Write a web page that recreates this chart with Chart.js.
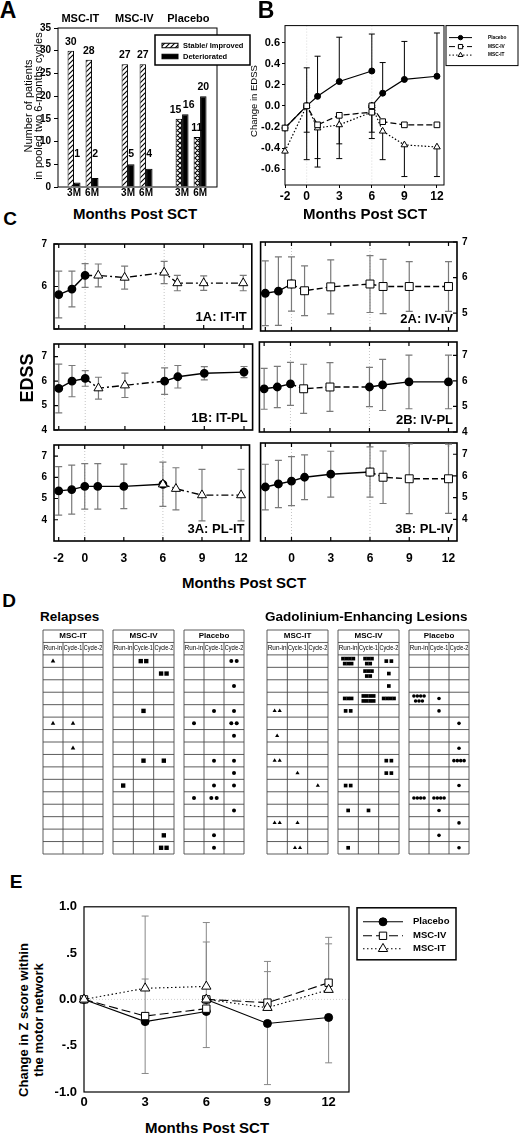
<!DOCTYPE html>
<html>
<head>
<meta charset="utf-8">
<title>EDSS, relapses and lesions after MSC transplantation</title>
<script src="https://cdn.jsdelivr.net/npm/chart.js@4.4.1/dist/chart.umd.min.js"></script>
<style>
  html, body { margin: 0; padding: 0; background: #fff; }
  #page { position: relative; width: 520px; height: 1133px; overflow: hidden; font-family: 'Liberation Sans', Arial, sans-serif; color: #000; }
  .box { position: absolute; }
  .box canvas { display: block; }
  .lbl { position: absolute; white-space: nowrap; line-height: 1; }
</style>
</head>
<body>
<div id="page"></div>
<script>
// Panel A - patients stable / deteriorated, pooled two 6-month cycles
const aGroups = ['MSC-IT', 'MSC-IV', 'Placebo'];
const aTimes = ['3M', '6M'];
const aStable = [30, 28, 27, 27, 15, 11];
const aDeteriorated = [1, 2, 5, 4, 16, 20];
const aYTicks = [0, 5, 10, 15, 20, 25, 30, 35];

// Panel B - change in EDSS, re-baselined at month 6
const bSeries = ['Placebo', 'MSC-IV', 'MSC-IT'];
const bCycle1Months = [-2, 0, 1, 3, 6];
const bCycle2Months = [6, 7, 9, 12];
const bPlacebo1 = [-0.21, 0, 0.09, 0.23, 0.33];
const bPlacebo2 = [0, 0.12, 0.25, 0.28];
const bIV1 = [-0.21, 0, -0.18, -0.09, -0.06];
const bIV2 = [0, -0.15, -0.18, -0.18];
const bIT1 = [-0.43, 0, -0.21, -0.18, -0.06];
const bIT2 = [0, -0.24, -0.37, -0.39];
// one-sided SD whiskers (placebo up, MSC down)
const bPlaceboSd1 = [0, 0.36, 0.38, 0.42, 0.35];
const bPlaceboSd2 = [0, 0.29, 0.36, 0.41];
const bIVSd1 = [0, 0.25, 0.32, 0.27, 0.19];
const bIVSd2 = [0, 0, 0, 0];
const bITSd1 = [0, 0.51, 0.37, 0.32, 0.25];
const bITSd2 = [0, 0.27, 0.30, 0.28];
const bXTicks = [-2, 0, 3, 6, 9, 12];
const bYTicks = [-0.6, -0.4, -0.2, 0, 0.2, 0.4, 0.6];

// Panel C - EDSS per crossover arm (base = run-in / placebo, drug = MSC)
const cMonths = [-2, -1, 0, 1, 3, 6, 7, 9, 12];
const cXTicks = [-2, 0, 3, 6, 9, 12];
const c1ABase = [5.81, 5.94, 6.26, null, null, null, null, null, null];
const c1ADrug = [null, null, 6.26, 6.26, 6.21, 6.33, 6.08, 6.08, 6.08];
const c1ASd = [0.55, 0.42, 0.28, 0.27, 0.27, 0.26, 0.18, 0.17, 0.18];
const c2ABase = [5.56, 5.62, 5.82, null, null, null, null, null, null];
const c2ADrug = [null, null, 5.82, 5.63, 5.74, 5.82, 5.75, 5.75, 5.75];
const c2ASd = [0.91, 0.96, 0.76, 0.70, 0.76, 0.80, 0.76, 0.70, 0.70];
const c1BBase = [5.70, 6.00, 6.11, null, null, 6.00, 6.18, 6.32, 6.37];
const c1BDrug = [null, null, 6.11, 5.71, 5.83, 6.00, null, null, null];
const c1BSd = [1.00, 0.64, 0.32, 0.45, 0.50, 0.54, 0.46, 0.27, 0.23];
const c2BBase = [5.69, 5.76, 5.88, null, null, 5.76, 5.84, 5.96, 5.96];
const c2BDrug = [null, null, 5.88, 5.69, 5.76, 5.76, null, null, null];
const c2BSd = [0.80, 0.81, 0.84, 0.96, 0.95, 0.77, 1.00, 1.05, 1.05];
const c3ABase = [5.36, 5.42, 5.57, 5.57, 5.57, 5.67, null, null, null];
const c3ADrug = [null, null, null, null, null, 5.67, 5.46, 5.16, 5.16];
const c3ASd = [1.14, 1.15, 1.07, 1.07, 1.05, 1.04, 0.99, 1.21, 1.21];
const c3BBase = [5.49, 5.63, 5.76, 5.94, 6.08, 6.18, null, null, null];
const c3BDrug = [null, null, null, null, null, 6.18, 5.94, 5.87, 5.87];
const c3BSd = [1.05, 1.09, 1.13, 1.03, 1.06, 1.16, 1.21, 1.61, 1.60];
const cYTicksTop = [5, 6, 7];
const cYTicks = [4, 5, 6, 7];

// Panel D - events per patient row (16 rows) and period
const dGroups = ['MSC-IT', 'MSC-IV', 'Placebo'];
const dColumns = ['Run-in', 'Cycle-1', 'Cycle-2'];
const relITRunIn  = [1,0,0,0,0,1,0,0,0,0,0,0,0,0,0,0];
const relITCycle1 = [0,0,0,0,0,1,0,1,0,0,0,0,0,0,0,0];
const relITCycle2 = [0,0,0,0,0,0,0,0,0,0,0,0,0,0,0,0];
const relIVRunIn  = [0,0,0,0,0,0,0,0,0,0,1,0,0,0,0,0];
const relIVCycle1 = [2,0,0,0,1,0,0,0,1,0,0,0,0,0,0,0];
const relIVCycle2 = [0,2,0,0,0,0,0,0,1,0,0,0,0,0,1,2];
const relPLRunIn  = [0,0,0,0,0,1,0,0,0,0,0,1,0,0,0,0];
const relPLCycle1 = [0,0,0,0,1,0,0,0,1,0,1,2,0,0,1,1];
const relPLCycle2 = [2,0,1,0,1,2,1,0,1,1,1,0,1,0,0,0];
const gdITRunIn  = [0,0,0,0,2,0,1,0,2,0,0,0,0,2,0,0];
const gdITCycle1 = [0,0,0,0,0,0,0,0,0,1,0,0,0,1,0,2];
const gdITCycle2 = [0,0,0,0,0,0,0,0,0,0,1,0,0,0,0,0];
const gdIVRunIn  = [7,0,0,3,2,0,0,0,0,0,2,0,1,0,0,1];
const gdIVCycle1 = [5,5,0,8,0,0,0,0,0,0,0,0,1,0,0,0];
const gdIVCycle2 = [2,1,1,4,0,0,0,0,2,2,0,0,0,0,0,0];
const gdPLRunIn  = [0,0,0,7,0,0,0,0,0,0,0,4,0,0,0,0];
const gdPLCycle1 = [0,0,0,1,1,0,0,0,0,0,0,4,1,0,1,0];
const gdPLCycle2 = [0,0,0,0,0,1,0,1,4,0,1,0,0,1,0,1];

// Panel E - change in Z score within the motor network
const eCycle1Months = [0, 3, 6];
const eCycle2Months = [6, 9, 12];
const ePlacebo1 = [0, -0.24, -0.13];
const ePlacebo2 = [0, -0.26, -0.195];
const eIV1 = [0, -0.18, -0.10];
const eIV2 = [0, -0.035, 0.18];
const eIT1 = [0, 0.12, 0.14];
const eIT2 = [0, -0.09, 0.105];
const ePlaceboSd1 = [0, 0.56, 0.39];
const ePlaceboSd2 = [0, 0.66, 0.49];
const eIVSd1 = [0, 0.40, 0.72];
const eIVSd2 = [0, 0.445, 0.49];
const eITSd1 = [0, 0.78, 0.69];
const eITSd2 = [0, 0.39, 0.495];
const eXTicks = [0, 3, 6, 9, 12];
const eYTicks = [-1, -0.5, 0, 0.5, 1];

const FONT = "'Liberation Sans', Arial, Helvetica, sans-serif";
Chart.defaults.font.family = FONT;
Chart.defaults.color = '#000';
Chart.defaults.animation = false;
Chart.defaults.responsive = true;
Chart.defaults.maintainAspectRatio = false;
Chart.defaults.events = [];
Chart.defaults.plugins.legend.display = false;
Chart.defaults.plugins.tooltip.enabled = false;

const page = document.getElementById('page');

function pts(xs, ys) { return xs.map((x, i) => ({ x, y: ys[i] })); }

function drawMark(c, style, x, y, r, fill) {
  c.beginPath();
  if (style === 'circle') c.arc(x, y, r, 0, Math.PI * 2);
  else if (style === 'rect') { const s = r * Math.SQRT1_2; c.rect(x - s, y - s, 2 * s, 2 * s); }
  else {
    for (let k = 0; k < 3; k++) {
      const a = k * 2 * Math.PI / 3;
      const px = x + Math.sin(a) * r, py = y - Math.cos(a) * r;
      if (k) c.lineTo(px, py); else c.moveTo(px, py);
    }
    c.closePath();
  }
  c.fillStyle = fill; c.fill();
  c.setLineDash([]); c.lineWidth = 1; c.strokeStyle = '#000'; c.stroke();
}

// ---------- plugins ----------
const refLinesPlugin = {
  id: 'refLines',
  beforeDatasetsDraw(chart, args, o) {
    if (!o.color) return;
    const c = chart.ctx, a = chart.chartArea;
    c.save(); c.strokeStyle = o.color; c.lineWidth = 1; c.setLineDash([1, 2]); c.beginPath();
    (o.x || []).forEach(v => { const x = chart.scales.x.getPixelForValue(v); c.moveTo(x, a.top); c.lineTo(x, a.bottom); });
    (o.y || []).forEach(v => { const y = chart.scales.y.getPixelForValue(v); c.moveTo(a.left, y); c.lineTo(a.right, y); });
    c.stroke(); c.restore();
  }
};

const framePlugin = {
  id: 'frame',
  beforeDatasetsDraw(chart, args, o) {
    if (!o.width) return;
    const c = chart.ctx, a = chart.chartArea;
    c.save(); c.strokeStyle = '#000'; c.lineWidth = o.width;
    c.strokeRect(a.left, a.top, a.right - a.left, a.bottom - a.top);
    c.restore();
  }
};

const innerTicksPlugin = {
  id: 'innerTicks',
  beforeDatasetsDraw(chart, args, o) {
    if (!o.len) return;
    const c = chart.ctx, a = chart.chartArea, xs = chart.scales.x, ys = chart.scales.y;
    c.save(); c.strokeStyle = '#000'; c.lineWidth = 1.2; c.beginPath();
    xs.ticks.forEach(t => {
      const x = xs.getPixelForValue(t.value);
      c.moveTo(x, a.top); c.lineTo(x, a.top + o.len);
      c.moveTo(x, a.bottom); c.lineTo(x, a.bottom - o.len);
    });
    const x0 = o.ySide === 'left' ? a.left : a.right, d = o.ySide === 'left' ? o.len : -o.len;
    ys.ticks.forEach(t => { const y = ys.getPixelForValue(t.value); c.moveTo(x0, y); c.lineTo(x0 + d, y); });
    c.stroke(); c.restore();
  }
};

const errorBarsPlugin = {
  id: 'errorBars',
  beforeDatasetsDraw(chart) {
    const c = chart.ctx, ys = chart.scales.y;
    chart.data.datasets.forEach((ds, di) => {
      if (!ds.errors) return;
      const meta = chart.getDatasetMeta(di);
      c.save(); c.strokeStyle = ds.errorColor; c.lineWidth = ds.errorWidth; c.setLineDash([]); c.beginPath();
      ds.data.forEach((p, i) => {
        const e = ds.errors[i];
        if (p.y === null || !e) return;
        const x = meta.data[i].x, y0 = ys.getPixelForValue(p.y);
        const ends = ds.errorDir ? [p.y + ds.errorDir * e] : [p.y + e, p.y - e];
        ends.forEach(v => {
          const y1 = ys.getPixelForValue(v);
          c.moveTo(x, y0); c.lineTo(x, y1);
          c.moveTo(x - ds.errorCap, y1); c.lineTo(x + ds.errorCap, y1);
        });
      });
      c.stroke(); c.restore();
    });
  }
};

const cornerLabelPlugin = {
  id: 'cornerLabel',
  afterDatasetsDraw(chart, args, o) {
    if (!o.text) return;
    const c = chart.ctx, a = chart.chartArea;
    c.save(); c.font = o.font; c.fillStyle = '#000'; c.textAlign = 'right'; c.textBaseline = 'middle';
    c.fillText(o.text, a.right - o.dx, a.bottom - o.dy);
    c.restore();
  }
};

// value above each bar; the two labels of a pair are pushed apart if they collide
const valueLabelsPlugin = {
  id: 'valueLabels',
  afterDatasetsDraw(chart, args, o) {
    if (!o.font) return;
    const c = chart.ctx;
    c.save(); c.font = o.font; c.fillStyle = '#000'; c.textAlign = 'center'; c.textBaseline = 'middle';
    const metas = chart.data.datasets.map((ds, di) => chart.getDatasetMeta(di));
    const labels = chart.data.datasets.map((ds, di) => metas[di].data.map((el, i) => {
      const t = String(ds.data[i].y);
      return { t, x: el.x, y: Math.min(el.y - o.gap, chart.chartArea.bottom - o.floor), w: c.measureText(t).width };
    }));
    labels[0].forEach((a, i) => {
      const b = labels[1][i];
      if (Math.abs(a.y - b.y) < o.size) {
        const need = (a.w + b.w) / 2 + 1.5 - (b.x - a.x);
        if (need > 0) { a.x -= need / 2; b.x += need / 2; }
      }
    });
    labels.flat().forEach(l => c.fillText(l.t, l.x, l.y));
    c.restore();
  }
};

const groupTitlesPlugin = {
  id: 'groupTitles',
  afterDraw(chart, args, o) {
    if (!o.titles) return;
    const c = chart.ctx, xs = chart.scales.x;
    c.save(); c.font = o.font; c.fillStyle = '#000'; c.textAlign = 'center'; c.textBaseline = 'middle';
    o.titles.forEach((t, i) => c.fillText(t, xs.getPixelForValue(o.centers[i]), chart.chartArea.top - o.lift));
    c.restore();
  }
};

const boxLegendPlugin = {
  id: 'boxLegend',
  afterDraw(chart, args, o) {
    if (!o.items) return;
    const c = chart.ctx, a = chart.chartArea;
    const x0 = a.right + o.dx, y0 = a.top + o.dy;
    c.save();
    c.fillStyle = '#fff'; c.fillRect(x0, y0, o.w, o.h);
    c.strokeStyle = '#000'; c.lineWidth = o.border; c.strokeRect(x0, y0, o.w, o.h);
    o.items.forEach((it, i) => {
      const y = y0 + o.rows[i];
      if (it.swatch) {
        c.fillStyle = it.swatch;
        c.fillRect(x0 + o.lineFrom, y - o.swatchH / 2, o.lineTo - o.lineFrom, o.swatchH);
        c.lineWidth = 1; c.strokeStyle = '#000';
        c.strokeRect(x0 + o.lineFrom, y - o.swatchH / 2, o.lineTo - o.lineFrom, o.swatchH);
      } else {
        c.strokeStyle = '#000'; c.lineWidth = o.lineWidth; c.setLineDash(it.dash);
        c.beginPath(); c.moveTo(x0 + o.lineFrom, y); c.lineTo(x0 + o.lineTo, y); c.stroke();
        drawMark(c, it.point, x0 + o.markAt, y, it.r, it.fill);
      }
      c.font = o.font; c.fillStyle = '#000'; c.textAlign = 'left'; c.textBaseline = 'middle';
      c.fillText(it.label, x0 + o.textAt, y);
    });
    c.restore();
  }
};

const tableGridPlugin = {
  id: 'tableGrid',
  beforeDatasetsDraw(chart, args, o) {
    if (!o.title) return;
    const c = chart.ctx, xs = chart.scales.x, ys = chart.scales.y;
    const X = v => xs.getPixelForValue(v), Y = v => ys.getPixelForValue(v);
    const rows = ys.max, cols = xs.max;
    c.save(); c.strokeStyle = o.color; c.lineWidth = o.lineWidth; c.beginPath();
    for (let r = 0; r <= rows; r++) { c.moveTo(X(0), Y(r)); c.lineTo(X(cols), Y(r)); }
    c.moveTo(X(0), Y(0)); c.lineTo(X(0), Y(rows));
    c.moveTo(X(cols), Y(0)); c.lineTo(X(cols), Y(rows));
    for (let k = 1; k < cols; k++) { c.moveTo(X(k), Y(1)); c.lineTo(X(k), Y(rows)); }
    c.stroke();
    c.fillStyle = '#000'; c.textAlign = 'center'; c.textBaseline = 'middle';
    c.font = o.titleFont; c.fillText(o.title, X(cols / 2), Y(0.5));
    c.font = o.colFont;
    o.columns.forEach((name, k) => {
      const maxW = X(k + 1) - X(k) - 1.5, w = c.measureText(name).width;
      c.save(); c.translate(X(k + 0.5), Y(1.5));
      if (w > maxW) c.scale(maxW / w, 1);
      c.fillText(name, 0, 0); c.restore();
    });
    c.restore();
  }
};

Chart.register(refLinesPlugin, framePlugin, innerTicksPlugin, errorBarsPlugin, cornerLabelPlugin,
  valueLabelsPlugin, groupTitlesPlugin, boxLegendPlugin, tableGridPlugin);

// plot = target chart area [left, top, right, bottom]; pad = space around it besides the axes
function makeChart(plot, pad, yw, xh, ySide, config) {
  const m = {
    l: pad.l + (ySide === 'left' ? yw : 0), r: pad.r + (ySide === 'right' ? yw : 0),
    t: pad.t, b: pad.b + xh
  };
  const div = document.createElement('div');
  div.className = 'box';
  div.style.left = (plot[0] - m.l) + 'px';
  div.style.top = (plot[1] - m.t) + 'px';
  div.style.width = (plot[2] - plot[0] + m.l + m.r) + 'px';
  div.style.height = (plot[3] - plot[1] + m.t + m.b) + 'px';
  const canvas = document.createElement('canvas');
  div.appendChild(canvas);
  page.appendChild(div);
  config.options.layout = { padding: { left: pad.l, right: pad.r, top: pad.t, bottom: pad.b } };
  config.options.scales.y.afterFit = s => { s.width = yw; };
  if (xh) config.options.scales.x.afterFit = s => { s.height = xh; };
  return new Chart(canvas, config);
}

function fixedTicks(list) { return s => { s.ticks = list.map(v => ({ value: v })); }; }

function text(str, cx, cy, size, weight, rot, align) {
  const d = document.createElement('div');
  d.className = 'lbl';
  d.textContent = str;
  d.style.left = cx + 'px';
  d.style.top = cy + 'px';
  d.style.fontSize = size + 'px';
  d.style.fontWeight = weight;
  d.style.transform = (align === 'left' ? 'translate(0,-50%)' : 'translate(-50%,-50%)') + (rot ? ' rotate(-90deg)' : '');
  page.appendChild(d);
}

function hatch(cross) {
  const cv = document.createElement('canvas');
  cv.width = cv.height = 5;
  const g = cv.getContext('2d');
  g.fillStyle = '#fff'; g.fillRect(0, 0, 5, 5);
  g.strokeStyle = '#000'; g.lineWidth = 1.1; g.beginPath();
  g.moveTo(0, 5); g.lineTo(5, 0); g.moveTo(-1, 1); g.lineTo(1, -1); g.moveTo(4, 6); g.lineTo(6, 4);
  if (cross) { g.moveTo(0, 0); g.lineTo(5, 5); g.moveTo(4, -1); g.lineTo(6, 1); g.moveTo(-1, 4); g.lineTo(1, 6); }
  g.stroke();
  return g.createPattern(cv, 'repeat');
}

const bold = size => ({ size, weight: 'bold' });
const noGrid = { display: false, drawTicks: false };

// ---------- Panel A ----------
const aPos = aGroups.flatMap((g, gi) => aTimes.map((t, ti) => gi * 3 + ti + 1));
const aTickText = aGroups.flatMap(() => aTimes);
const diagFill = hatch(false), crossFill = hatch(true);
makeChart([58, 28, 217, 187], { l: 2, t: 20, r: 36, b: 1 }, 26, 16, 'left', {
  type: 'bar',
  data: {
    datasets: [
      { label: 'Stable/ Improved', data: pts(aPos, aStable),
        backgroundColor: aPos.map((p, i) => aGroups[Math.floor(i / aTimes.length)] === 'Placebo' ? crossFill : diagFill),
        borderColor: '#000', borderWidth: 1, categoryPercentage: 0.72, barPercentage: 1 },
      { label: 'Deteriorated', data: pts(aPos, aDeteriorated), backgroundColor: '#000',
        borderColor: '#000', borderWidth: 1, categoryPercentage: 0.72, barPercentage: 1 }
    ]
  },
  options: {
    scales: {
      x: { type: 'linear', min: 0.11, max: 8.94, offset: false, afterBuildTicks: fixedTicks(aPos),
        ticks: { callback: v => aTickText[aPos.indexOf(v)], font: bold(10), padding: 0, maxRotation: 0, autoSkip: false },
        grid: noGrid, border: { display: false } },
      y: { type: 'linear', min: 0, max: 35, afterBuildTicks: fixedTicks(aYTicks),
        ticks: { font: bold(10), padding: 3 },
        grid: { drawOnChartArea: false, drawTicks: true, tickLength: 4, color: '#000' }, border: { display: false } }
    },
    plugins: {
      frame: { width: 1 },
      valueLabels: { font: 'bold 10.5px ' + FONT, size: 10.5, gap: 9, floor: 33 },
      groupTitles: { titles: aGroups, centers: aGroups.map((g, gi) => gi * 3 + 1.35), lift: 9, font: 'bold 11px ' + FONT },
      boxLegend: { dx: -62, dy: 7, w: 95, h: 30, border: 1.5, rows: [10.5, 21.5], lineFrom: 7, lineTo: 23, swatchH: 4.5,
        textAt: 28, lineWidth: 1, font: 'bold 7.5px ' + FONT,
        items: [{ label: 'Stable/ Improved', swatch: diagFill }, { label: 'Deteriorated', swatch: '#000' }] }
    }
  }
});

// ---------- Panels B and E: two-cycle series ----------
const seriesMark = { 'Placebo': ['circle', '#000'], 'MSC-IV': ['rect', '#fff'], 'MSC-IT': ['triangle', '#fff'] };
const bLook = { lw: 1.2, err: '#000', errW: 1, cap: 3, r: { circle: 3, rect: 4, triangle: 3.8 },
  dash: { 'Placebo': [], 'MSC-IV': [6, 3], 'MSC-IT': [1.5, 2] } };
const eLook = { lw: 1.1, err: '#888', errW: 1, cap: 3.5, r: { circle: 4, rect: 5.2, triangle: 5.4 },
  dash: { 'Placebo': [], 'MSC-IV': [9, 4], 'MSC-IT': [1.5, 2.5] } };

function cycleSeries(name, look, m1, v1, e1, m2, v2, e2, dir) {
  const [point, fill] = seriesMark[name];
  return {
    label: name,
    data: pts(m1, v1).concat([{ x: m2[0], y: null }], pts(m2, v2)),
    errors: e1.concat([0], e2), errorDir: dir, errorColor: look.err, errorWidth: look.errW, errorCap: look.cap,
    borderColor: '#000', borderWidth: look.lw, borderDash: look.dash[name],
    pointStyle: point, pointRadius: look.r[point], pointBackgroundColor: fill, pointBorderColor: '#000',
    pointBorderWidth: 1, clip: false, spanGaps: false
  };
}
function legendItems(look, r) {
  return bSeries.map(name => ({ label: name, dash: look.dash[name], point: seriesMark[name][0], fill: seriesMark[name][1], r: r[seriesMark[name][0]] }));
}

makeChart([285, 25, 444, 185], { l: 2, t: 8, r: 76, b: 1 }, 25, 17, 'left', {
  type: 'line',
  data: {
    datasets: [
      cycleSeries('MSC-IV', bLook, bCycle1Months, bIV1, bIVSd1, bCycle2Months, bIV2, bIVSd2, -1),
      cycleSeries('MSC-IT', bLook, bCycle1Months, bIT1, bITSd1, bCycle2Months, bIT2, bITSd2, -1),
      cycleSeries('Placebo', bLook, bCycle1Months, bPlacebo1, bPlaceboSd1, bCycle2Months, bPlacebo2, bPlaceboSd2, 1)
    ]
  },
  options: {
    scales: {
      x: { type: 'linear', min: -2, max: 12.65, afterBuildTicks: fixedTicks(bXTicks),
        ticks: { font: bold(12), padding: 1, maxRotation: 0, autoSkip: false },
        grid: { drawOnChartArea: false, drawTicks: true, tickLength: 3, color: '#000' }, border: { display: false } },
      y: { type: 'linear', min: -0.75, max: 0.76, afterBuildTicks: fixedTicks(bYTicks),
        ticks: { font: bold(11), padding: 2, callback: v => v.toFixed(1) },
        grid: { drawOnChartArea: false, drawTicks: true, tickLength: 3, color: '#000' }, border: { display: false } }
    },
    plugins: {
      frame: { width: 1 },
      refLines: { x: [0, 6], color: '#d8d8d8' },
      boxLegend: { dx: 2, dy: 0, w: 72, h: 40, border: 1, rows: [12, 21, 29.5], lineFrom: 3, lineTo: 26, markAt: 14.5,
        textAt: 42, lineWidth: 1, font: 'bold 4.8px ' + FONT, items: legendItems(bLook, { circle: 2.2, rect: 3, triangle: 2.8 }) }
    }
  }
});

makeChart([84, 900, 349, 1092], { l: 2, t: 8, r: 110, b: 2 }, 36, 18, 'left', {
  type: 'line',
  data: {
    datasets: [
      cycleSeries('MSC-IT', eLook, eCycle1Months, eIT1, eITSd1, eCycle2Months, eIT2, eITSd2, 1),
      cycleSeries('MSC-IV', eLook, eCycle1Months, eIV1, eIVSd1, eCycle2Months, eIV2, eIVSd2, 1),
      cycleSeries('Placebo', eLook, eCycle1Months, ePlacebo1, ePlaceboSd1, eCycle2Months, ePlacebo2, ePlaceboSd2, -1)
    ]
  },
  options: {
    scales: {
      x: { type: 'linear', min: 0, max: 13, afterBuildTicks: fixedTicks(eXTicks),
        ticks: { font: bold(13), padding: 3, maxRotation: 0, autoSkip: false }, grid: noGrid, border: { display: false } },
      y: { type: 'linear', min: -1, max: 1, afterBuildTicks: fixedTicks(eYTicks),
        ticks: { font: bold(13), padding: 7, callback: v => (v === 0 || Math.abs(v) === 1) ? v.toFixed(1) : v.toFixed(1).replace('0.', '.') },
        grid: noGrid, border: { display: false } }
    },
    plugins: {
      frame: { width: 1.2 },
      refLines: { y: [0], color: '#cfcfcf' },
      boxLegend: { dx: 8, dy: 1, w: 99, h: 52, border: 1.5, rows: [14, 28, 41], lineFrom: 6, lineTo: 46, markAt: 26,
        textAt: 56, lineWidth: 1.1, font: 'bold 9.5px ' + FONT, items: legendItems(eLook, eLook.r) }
    }
  }
});

// ---------- Panel C ----------
const drugLook = {
  IT: { point: 'triangle', dash: [7, 3, 2, 3], r: 5.2 },
  IV: { point: 'rect', dash: [6, 3], r: 5.6 }
};
function edssPanel(plot, side, yMin, yMax, yTicks, yShown, showX, tag, base, drug, sd, look, drugOnJoin) {
  const left = side === 'left';
  const pad = left ? { l: 2, r: 2, t: 8, b: 3 } : { l: 2, r: 4, t: 8, b: 3 };
  makeChart(plot, pad, 20, showX ? 26 : 0, side, {
    type: 'line',
    data: {
      datasets: [
        { data: pts(cMonths, drug), borderColor: '#000', borderWidth: 1.4, borderDash: look.dash,
          pointStyle: look.point, pointBackgroundColor: '#fff', pointBorderColor: '#000', pointBorderWidth: 1,
          pointRadius: ctx => (!drugOnJoin && base[ctx.dataIndex] !== null) ? 0 : look.r, clip: false },
        { data: pts(cMonths, base), borderColor: '#000', borderWidth: 1.4, pointStyle: 'circle',
          pointRadius: 3.7, pointBackgroundColor: '#000', pointBorderColor: '#000', clip: false },
        { data: pts(cMonths, base.map((v, i) => v !== null ? v : drug[i])), showLine: false, pointRadius: 0,
          errors: sd, errorDir: 0, errorColor: '#7a7a7a', errorWidth: 1.2, errorCap: 3.5 }
      ]
    },
    options: {
      scales: {
        x: { type: 'linear', min: -2.36, max: 12.65, display: showX, afterBuildTicks: fixedTicks(cXTicks),
          ticks: { font: bold(12), padding: 10, maxRotation: 0, autoSkip: false,
            callback: v => (!left && v === cXTicks[0]) ? '' : String(v) },
          grid: noGrid, border: { display: false } },
        y: { type: 'linear', position: side, min: yMin, max: yMax, afterBuildTicks: fixedTicks(yTicks),
          ticks: { font: bold(10), padding: left ? 7 : 5, callback: v => yShown.includes(v) ? String(v) : '' },
          grid: noGrid, border: { display: false } }
      },
      plugins: {
        frame: { width: 1.6 },
        refLines: { x: [0, 6], color: '#c4c4c4' },
        innerTicks: { len: 4, ySide: side },
        cornerLabel: { text: tag, font: 'bold 13px ' + FONT, dx: left ? 5 : 4, dy: 12 }
      }
    }
  });
}
edssPanel([54, 239, 256, 339], 'left', 5, 7, cYTicksTop, [6, 7], false, '1A: IT-IT', c1ABase, c1ADrug, c1ASd, drugLook.IT, false);
edssPanel([256, 239, 457, 339], 'right', 4.5, 7, cYTicksTop, [5, 6, 7], false, '2A: IV-IV', c2ABase, c2ADrug, c2ASd, drugLook.IV, true);
edssPanel([54, 339, 256, 440], 'left', 4, 7.52, cYTicks, cYTicks, false, '1B: IT-PL', c1BBase, c1BDrug, c1BSd, drugLook.IT, false);
edssPanel([256, 339, 457, 440], 'right', 4, 7.52, cYTicks, cYTicks, false, '2B: IV-PL', c2BBase, c2BDrug, c2BSd, drugLook.IV, false);
edssPanel([54, 440, 256, 541], 'left', 3, 7.52, cYTicks, cYTicks, true, '3A: PL-IT', c3ABase, c3ADrug, c3ASd, drugLook.IT, true);
edssPanel([256, 440, 457, 541], 'right', 3, 7.52, cYTicks, cYTicks, true, '3B: PL-IV', c3BBase, c3BDrug, c3BSd, drugLook.IV, true);

// ---------- Panel D ----------
function cellMarks(columns, dxFew, dxMany) {
  const out = [];
  columns.forEach((counts, col) => counts.forEach((n, row) => {
    if (!n) return;
    const lines = n > 4 ? [Math.ceil(n / 2), n - Math.ceil(n / 2)] : [n];
    const dx = n > 2 ? dxMany : dxFew;
    lines.forEach((k, li) => {
      const dy = lines.length > 1 ? (li ? 0.2 : -0.2) : 0;
      for (let j = 0; j < k; j++) out.push({ x: col + 0.5 + (j - (k - 1) / 2) * dx, y: 2.5 + row + dy });
    });
  }));
  return out;
}
function eventTable(x0, x1, group, columns, point, r, dxFew, dxMany) {
  makeChart([x0, 627, x1, 857], { l: 1, t: 1, r: 1, b: 1 }, 0, 0, 'left', {
    type: 'scatter',
    data: {
      datasets: [{ data: cellMarks(columns, dxFew, dxMany), pointStyle: point, pointRadius: r,
        pointBackgroundColor: '#000', pointBorderColor: '#000', pointBorderWidth: 0, clip: false }]
    },
    options: {
      scales: {
        x: { type: 'linear', min: 0, max: dColumns.length, display: false },
        y: { type: 'linear', min: 0, max: 18, reverse: true, display: false }
      },
      plugins: {
        tableGrid: { title: group, columns: dColumns, color: '#4a4a4a', lineWidth: 0.9,
          titleFont: 'bold 8px ' + FONT, colFont: '6.4px ' + FONT }
      }
    }
  });
}
eventTable(40, 106, dGroups[0], [relITRunIn, relITCycle1, relITCycle2], 'triangle', 2.6, 0.27, 0.18);
eventTable(110, 177, dGroups[1], [relIVRunIn, relIVCycle1, relIVCycle2], 'rect', 3.1, 0.27, 0.18);
eventTable(181, 247, dGroups[2], [relPLRunIn, relPLCycle1, relPLCycle2], 'circle', 2, 0.27, 0.18);
eventTable(264, 331, dGroups[0], [gdITRunIn, gdITCycle1, gdITCycle2], 'triangle', 2.4, 0.25, 0.17);
eventTable(335, 402, dGroups[1], [gdIVRunIn, gdIVCycle1, gdIVCycle2], 'rect', 2.6, 0.25, 0.17);
eventTable(406, 472, dGroups[2], [gdPLRunIn, gdPLCycle1, gdPLCycle2], 'circle', 1.8, 0.25, 0.17);

// ---------- text ----------
text('A', 8, 10, 23, 'bold');
text('B', 266, 10, 23, 'bold');
text('C', 10, 218, 19, 'bold');
text('D', 9, 600, 19, 'bold');
text('E', 16, 881, 19, 'bold');
text('Number of patients', 27.5, 106, 11, 'normal', true);
text('in pooled two 6-months cycles', 37.5, 106, 11, 'normal', true);
text('Change in EDSS', 254, 101, 9.5, 'normal', true);
text('Months Post SCT', 135, 213, 15, 'bold');
text('Months Post SCT', 365, 213, 15, 'bold');
text('EDSS', 27, 378, 18, 'bold', true);
text('Months Post SCT', 244, 582, 15, 'bold');
text('Relapses', 40, 617, 13.5, 'bold', false, 'left');
text('Gadolinium-Enhancing Lesions', 265, 617, 13.5, 'bold', false, 'left');
text('Change in Z score within', 23, 1020, 13, 'bold', true);
text('the motor network', 38, 1020, 13, 'bold', true);
text('Months Post SCT', 207, 1127, 15, 'bold');
</script>
</body>
</html>
